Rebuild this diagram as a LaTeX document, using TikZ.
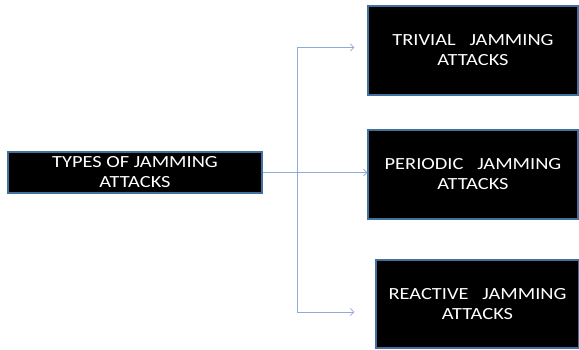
\documentclass[tikz,border=0pt]{standalone}
\usepackage{fontspec}
\setmainfont[FakeStretch=1.2]{Carlito}
\usepackage{tikz}
\usetikzlibrary{positioning,arrows.meta}
\definecolor{boxline}{HTML}{41719C}
\definecolor{linkline}{HTML}{8FAADC}
\tikzset{
  attack/.style={draw=boxline, line width=1.2pt, fill=black, text=white, align=center,
    font=\fontsize{17}{20}\selectfont, inner sep=0pt},
  link/.style={draw=linkline, line width=0.8pt, >={Straight Barb[length=3.5pt,width=7pt]}},
}

\begin{document}
\begin{tikzpicture}[x=1pt,y=1pt]
\useasboundingbox (0,0) rectangle (579,349);
\node [attack, minimum width=254pt, minimum height=41pt] (types) at (135,176.5) {TYPES OF JAMMING\\ATTACKS};
\node [attack, minimum width=210pt, minimum height=89pt] (trivial) at (473,298.5) {TRIVIAL\ \ \ JAMMING\\ATTACKS};
\node [attack, minimum width=210pt, minimum height=89pt] (periodic) at (473,174.5) {PERIODIC\ \ \ JAMMING\\ATTACKS};
\node [attack, minimum width=203pt, minimum height=88pt] (reactive) at (477.5,45) {REACTIVE\ \ \ JAMMING\\ATTACKS};
\coordinate (fork) at ([xshift=35pt]types.east);
\draw [link] (types.east) -- (fork);
\draw [link,->] (fork) -- (fork -| periodic.west);
\draw [link,->,shorten >=13pt] (fork) |- ([yshift=3pt]trivial.west);
\draw [link,->,shorten >=21pt] (fork) |- ([yshift=-8pt]reactive.west);
\end{tikzpicture}
\end{document}
